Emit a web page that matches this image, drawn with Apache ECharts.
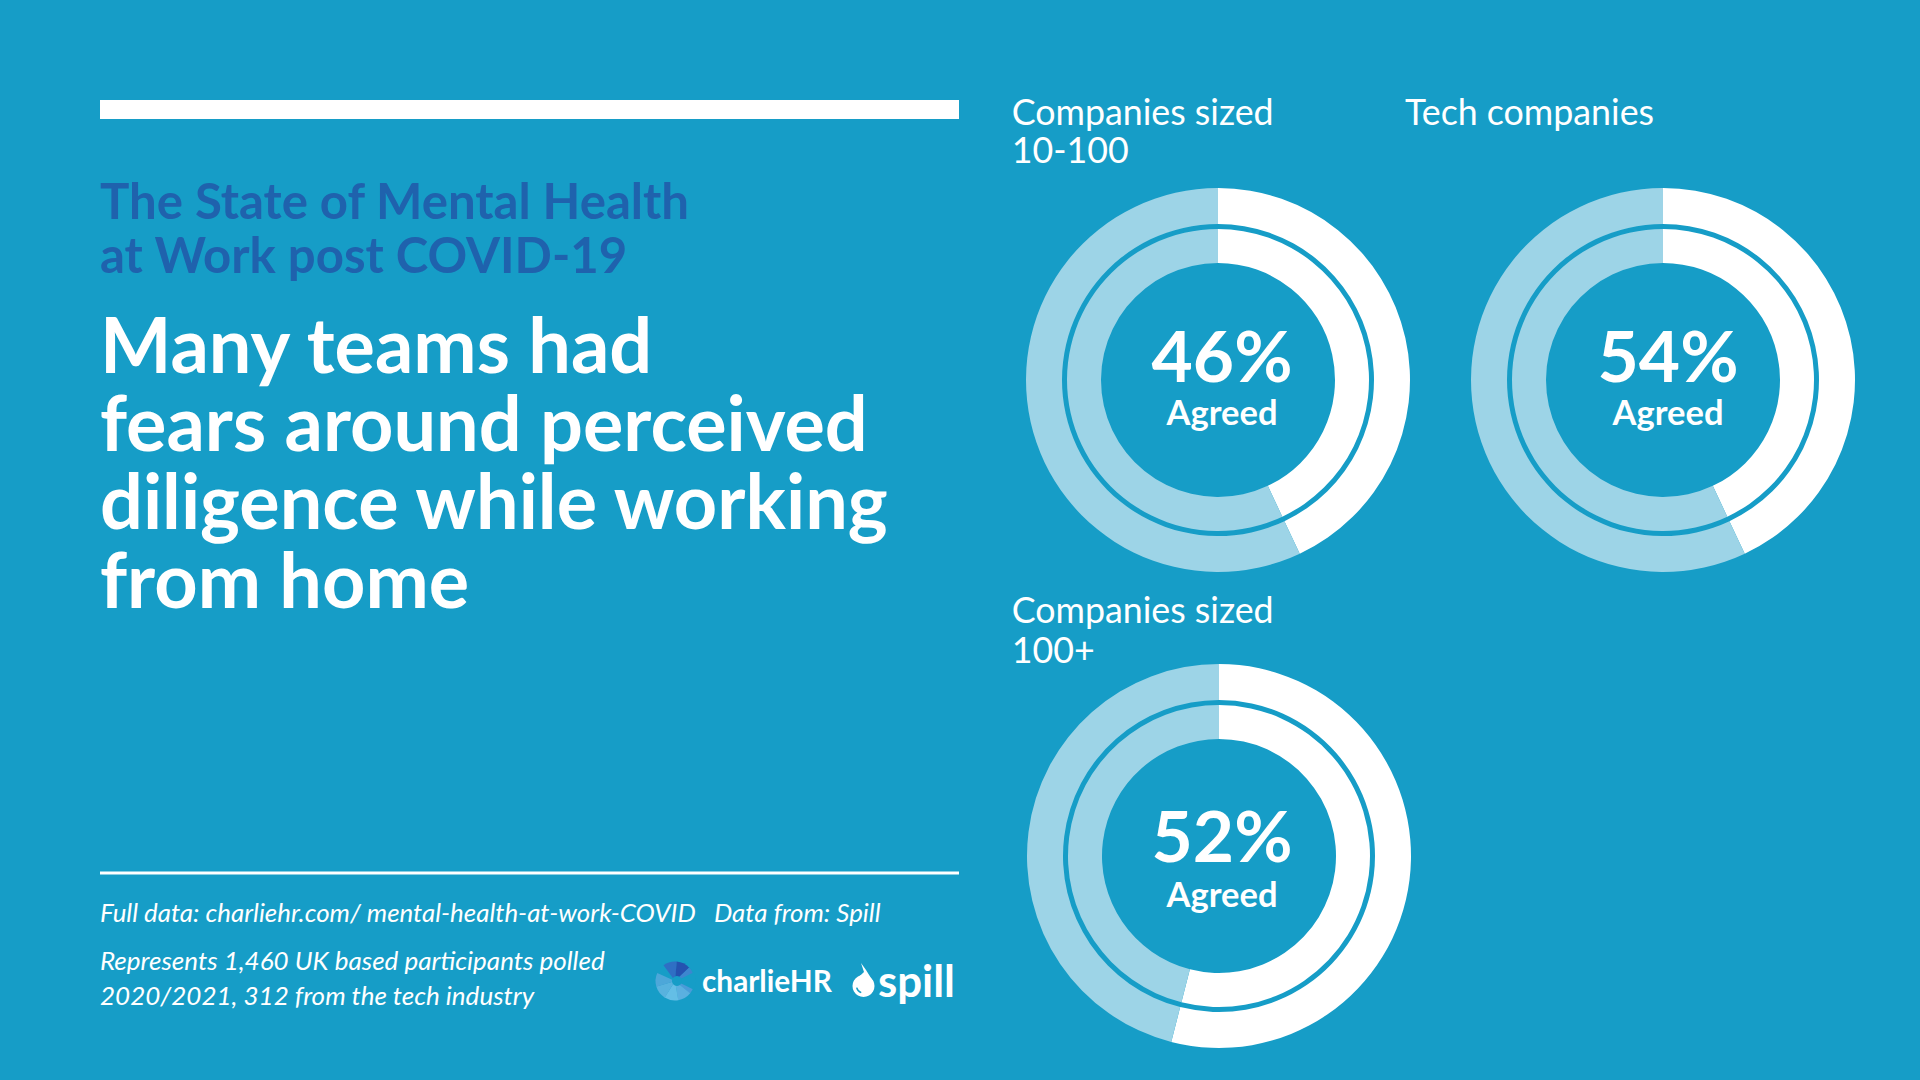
<!DOCTYPE html>
<html><head><meta charset="utf-8">
<script src="https://cdn.jsdelivr.net/npm/echarts@6/dist/echarts.min.js"></script>
<style>html,body{margin:0;padding:0;background:#169dc7;overflow:hidden}#chart{width:1920px;height:1080px}</style>
</head><body><div id="chart"></div>
<script>
// ---- data ----
const groupTitles = [['Companies sized', '10-100'], ['Tech companies'], ['Companies sized', '100+']];
const agreedLabels = ['46%', '54%', '52%'];
const agreedWord = 'Agreed';
// share of each ring drawn white (as drawn in the picture) and the light remainder
const arcShares = [43, 43, 54];
const restShares = [57, 57, 46];
const subtitleLines = ['The State of Mental Health', 'at Work post COVID-19'];
const headlineLines = ['Many teams had', 'fears around perceived', 'diligence while working', 'from home'];
const footerLines = ['Full data: charliehr.com/ mental-health-at-work-COVID   Data from: Spill',
  'Represents 1,460 UK based participants polled', '2020/2021, 312 from the tech industry'];
const logoNames = ['charlieHR', 'spill'];

// ---- styling / layout ----
const BG = '#169dc7', LIGHT = '#9dd4e7', DARK = '#1f62ad', FONT = 'Lato';
const ctx = document.createElement('canvas').getContext('2d');
function fit(text, weight, style, target) {
  ctx.font = style + ' ' + weight + ' 100px ' + FONT;
  return 100 * target / ctx.measureText(text).width;
}
// multi-line text block; base = first baseline, lh = line spacing
function T(lines, x, base, size, o, lh) {
  o = o || {};
  lh = lh || Math.round(size * 1.1);
  return { type: 'text', x: x, y: base - lh / 2 - 0.387 * size, silent: true, z: 10,
    style: { text: lines.join('\n'), fontSize: size, lineHeight: lh, fontFamily: FONT,
      fontWeight: o.w || 'normal', fontStyle: o.s || 'normal', fill: o.c || '#fff',
      align: o.a || 'left', verticalAlign: 'top' } };
}

const centers = [[1218, 380], [1663, 380], [1219, 856]];
const rings = [[117, 151], [156, 192]];
const series = [];
centers.forEach((c, i) => {
  rings.forEach(r => {
    series.push({ type: 'pie', center: c, radius: r, startAngle: 90, clockwise: true,
      silent: true, animation: false, label: { show: false }, labelLine: { show: false },
      itemStyle: { borderWidth: 0 }, emphasis: { disabled: true },
      data: [{ value: arcShares[i], itemStyle: { color: '#ffffff' } },
             { value: restShares[i], itemStyle: { color: LIGHT } }] });
  });
});

const g = [];
// top bar
g.push({ type: 'rect', shape: { x: 100, y: 100, width: 859, height: 19 }, style: { fill: '#fff' }, silent: true });
// subtitle
const subSize = fit(subtitleLines[0], 'bold', 'normal', 590);
g.push(T(subtitleLines, 100, 219.5, subSize, { w: 'bold', c: DARK }, 53.5));
// headline
const headSize = fit(headlineLines[2], 'bold', 'normal', 791);
g.push(T(headlineLines, 100, 372.7, headSize, { w: 'bold' }, 78.2));
// footer rule
g.push({ type: 'rect', shape: { x: 100, y: 871.5, width: 859, height: 3 }, style: { fill: '#fff' }, silent: true });
const f1 = fit(footerLines[0], 'normal', 'italic', 781);
g.push(T([footerLines[0]], 100, 921.7, f1, { s: 'italic' }));
const f2 = fit(footerLines[1], 'normal', 'italic', 505);
g.push(T([footerLines[1], footerLines[2]], 100, 970, f2, { s: 'italic' }, 35));
// charlieHR logo mark (faceted circle with a C opening)
const lc = [675, 981], lr = 19.5;
const facet = ['#2f6fc4', '#2552b0', '#3d86cf', '#4a9bd8', '#5ab0e0', '#64bee6', '#58b2de', '#4da7d9'];
for (let k = 0; k < 8; k++) {
  g.push({ type: 'sector', silent: true, shape: { cx: lc[0], cy: lc[1], r: lr, r0: 0,
    startAngle: -2.2 + k * 0.72, endAngle: -2.2 + (k + 1) * 0.72 + 0.01 }, style: { fill: facet[k] } });
}
g.push({ type: 'sector', silent: true, shape: { cx: lc[0] + 1, cy: lc[1], r: 20, r0: 0, startAngle: -0.45, endAngle: 0.45 }, style: { fill: BG } });
g.push({ type: 'circle', silent: true, shape: { cx: lc[0] + 2, cy: lc[1], r: 5 }, style: { fill: BG } });
const cSize = fit(logoNames[0], 'bold', 'normal', 130);
g.push(T([logoNames[0]], 702, 991.7, cSize, { w: 'bold' }));
// spill drop
g.push({ type: 'circle', silent: true, shape: { cx: 863.5, cy: 986, r: 11 }, style: { fill: '#fff' } });
g.push({ type: 'polygon', silent: true, shape: { points: [[853.5, 982], [873.5, 982], [866, 970], [861, 963], [864, 972]] }, style: { fill: '#fff' } });
g.push({ type: 'arc', silent: true, shape: { cx: 863.5, cy: 986, r: 7, startAngle: 1.9, endAngle: 2.9 }, style: { stroke: BG, lineWidth: 1.5, fill: null } });
const sSize = fit(logoNames[1], 'bold', 'normal', 77);
g.push(T([logoNames[1]], 878, 996.7, sSize, { w: 'bold' }));

// donut titles
const tSize = fit(groupTitles[0][0], 'normal', 'normal', 262);
g.push(T(groupTitles[0], 1011.7, 125, tSize, {}, 38.5));
g.push(T(groupTitles[1], 1405, 125, tSize, {}, 38.5));
g.push(T(groupTitles[2], 1011.7, 623.3, tSize, {}, 40));
// centre labels
const pSize = fit(agreedLabels[0], 'bold', 'normal', 141);
const aSize = fit(agreedWord, 'bold', 'normal', 111);
const labelPos = [[1222, 381.7, 425], [1668, 381.7, 425], [1222, 861.7, 906.7]];
labelPos.forEach((p, i) => {
  g.push(T([agreedLabels[i]], p[0], p[1], pSize, { w: 'bold', a: 'center' }, pSize * 0.8));
  g.push(T([agreedWord], p[0], p[2], aSize, { w: 'bold', a: 'center' }, aSize));
});

const chart = echarts.init(document.getElementById('chart'), null, { renderer: 'svg', width: 1920, height: 1080 });
chart.setOption({ backgroundColor: BG, animation: false, series: series, graphic: { elements: g } });
</script></body></html>
